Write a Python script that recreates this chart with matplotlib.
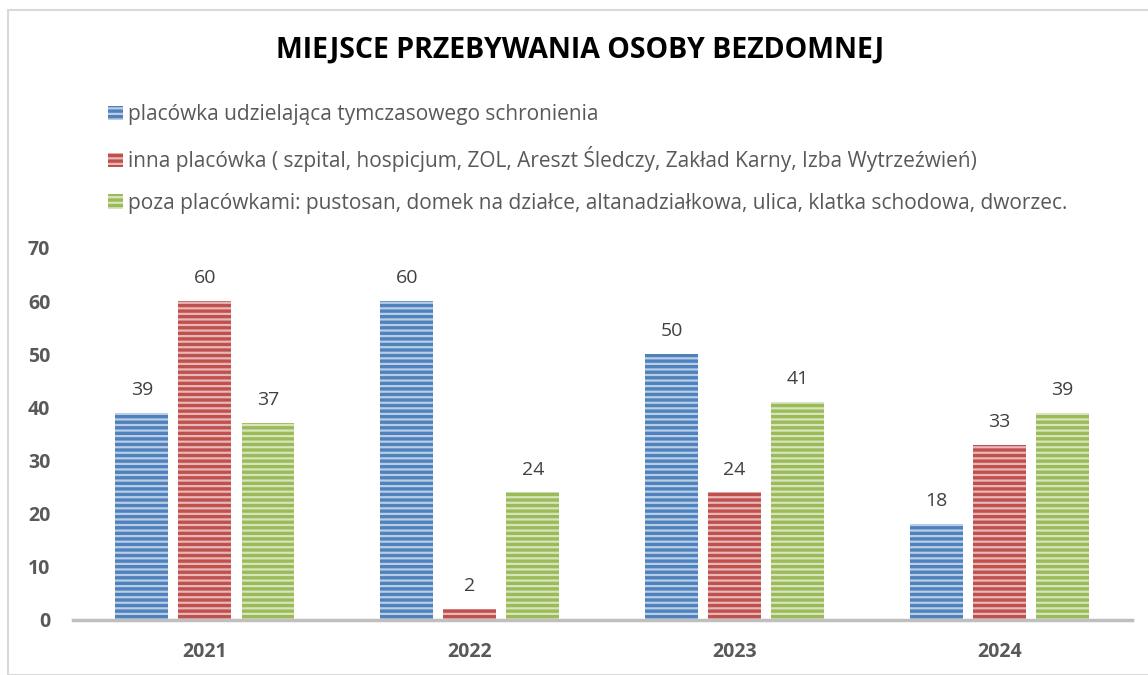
import matplotlib
matplotlib.use('Agg')
import matplotlib.pyplot as plt
import numpy as np
from matplotlib.patches import Rectangle

plt.rcParams['font.family'] = ['Open Sans', 'DejaVu Sans']
plt.rcParams['hatch.linewidth'] = 1.6

years = ['2021', '2022', '2023', '2024']
series_names = [
    'placówka udzielająca tymczasowego schronienia',
    'inna placówka ( szpital, hospicjum, ZOL, Areszt Śledczy, Zakład Karny, Izba Wytrzeźwień)',
    'poza placówkami: pustosan, domek na działce, altanadziałkowa, ulica, klatka schodowa, dworzec.',
]
placowka = [39, 60, 50, 18]
inna = [60, 2, 24, 33]
poza = [37, 24, 41, 39]
yticks = [0, 10, 20, 30, 40, 50, 60, 70]

colors = ['#4F81BD', '#C0504D', '#9BBB59']
stripes = ['#B9CDE5', '#E6B9B8', '#D7E4BD']

fig = plt.figure(figsize=(11.48, 6.75), dpi=100)
ax = fig.add_axes([0.0632, 0.0815, 0.9228, 0.5511])

x = np.arange(len(years))
width = 0.2
step = 0.238
handles = []
for i, (vals, c, s, name) in enumerate(zip([placowka, inna, poza], colors, stripes, series_names)):
    pos = x + (i - 1) * step
    bars = ax.bar(pos, vals, width, color=c, edgecolor=s, hatch='---', linewidth=0,
                  label=name, zorder=2)
    handles.append(bars)
    for b, v in zip(bars, vals):
        ax.annotate(str(v), (b.get_x() + b.get_width() / 2, v), xytext=(0, 10),
                    textcoords='offset points', ha='center', va='bottom',
                    fontsize=14, color='#404040')

ax.set_xlim(-0.5, 3.5)
ax.set_ylim(0, 70)
ax.set_yticks(yticks)
ax.set_xticks(x)
ax.set_xticklabels(years)
for sp in ['top', 'right', 'left']:
    ax.spines[sp].set_visible(False)
ax.spines['bottom'].set_color('#BFBFBF')
ax.spines['bottom'].set_linewidth(2.5)
ax.spines['bottom'].set_zorder(3)
ax.tick_params(axis='both', length=0, labelsize=14, colors='#595959')
ax.tick_params(axis='y', pad=16)
ax.tick_params(axis='x', pad=16)
for lab in ax.get_xticklabels() + ax.get_yticklabels():
    lab.set_fontweight('bold')

fig.text(0.505, 1 - 50 / 675, 'MIEJSCE PRZEBYWANIA OSOBY BEZDOMNEJ', ha='center', va='center',
         fontsize=20.5, fontweight='bold', color='black')

fig.legend(handles=handles, loc='upper left', bbox_to_anchor=(100 / 1148, 1 - 96 / 675),
           frameon=False, fontsize=15, labelcolor='#595959', handlelength=0.7,
           handleheight=0.7, handletextpad=0.25, labelspacing=1.0, borderaxespad=0)

# chart frame
fig.patches.append(Rectangle((8 / 1148, 0), 1.0, 1 - 10 / 675, transform=fig.transFigure,
                             fill=False, edgecolor='#D9D9D9', linewidth=1.5))

plt.savefig('out.png', dpi=100)
